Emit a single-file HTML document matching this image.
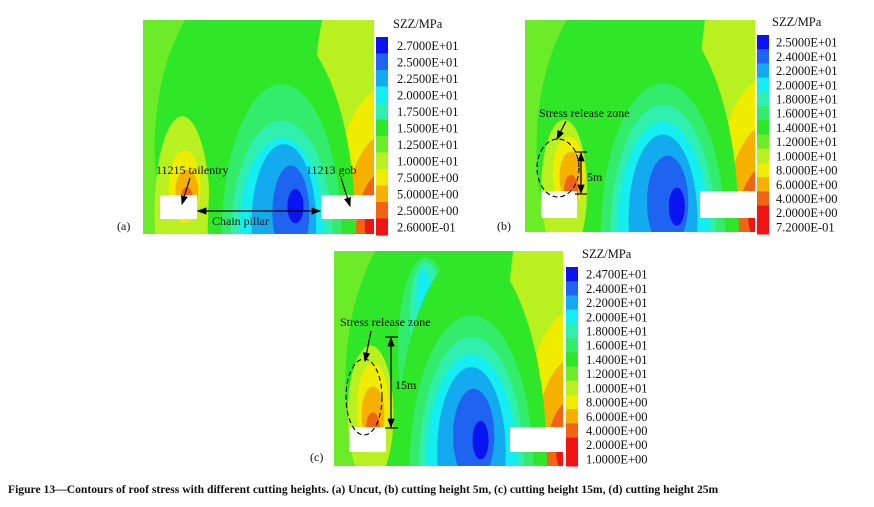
<!DOCTYPE html>
<html><head><meta charset="utf-8"><style>
html,body{margin:0;padding:0;background:#fff;overflow:hidden;width:874px;height:507px;}
svg{display:block;font-family:"Liberation Serif",serif;}
</style></head><body>
<svg id="fig" width="874" height="507" viewBox="0 0 874 507"></svg>
<script>
const NS='http://www.w3.org/2000/svg';
const svg=document.getElementById('fig');
const levelColors=['#0a14f0','#1e64f0','#14aaf0','#14eef0','#30f0b0','#34ec6c','#30e628','#6cec28','#b8f020','#f0ec00','#f5b000','#f06414','#f01414'];
const labelsA=['2.7000E+01','2.5000E+01','2.2500E+01','2.0000E+01','1.7500E+01','1.5000E+01','1.2500E+01','1.0000E+01','7.5000E+00','5.0000E+00','2.5000E+00','2.6000E-01'];
const labelsB=['2.5000E+01','2.4000E+01','2.2000E+01','2.0000E+01','1.8000E+01','1.6000E+01','1.4000E+01','1.2000E+01','1.0000E+01','8.0000E+00','6.0000E+00','4.0000E+00','2.0000E+00','7.2000E-01'];
const labelsC=['2.4700E+01','2.4000E+01','2.2000E+01','2.0000E+01','1.8000E+01','1.6000E+01','1.4000E+01','1.2000E+01','1.0000E+01','8.0000E+00','6.0000E+00','4.0000E+00','2.0000E+00','1.0000E+00'];
// contour blobs: [level, cx, cy, rx, ry] in plot fractions
const blobsA=[[8,1.08,.4,.34,.9],[9,1.08,.8,.24,.5],[10,1.08,.92,.2,.4],[11,1.06,1.0,.14,.3],[12,1.02,.96,.06,.12],
[8,.17,.9,.12,.45],[9,.18,.78,.07,.17],[10,.19,.8,.05,.1],[11,.19,.83,.025,.05],
[6,.6,1.0,.32,.95],[5,.6,1.02,.26,.72],[4,.6,1.02,.22,.55],[3,.6,1.0,.185,.45],[2,.61,.95,.14,.37],[1,.64,.9,.08,.22],[0,.66,.87,.035,.08]];
const blobsB=[[8,1.08,.35,.32,.95],[9,1.08,.78,.24,.52],[10,1.08,.9,.2,.42],[11,1.06,1.0,.14,.32],[12,1.03,.93,.06,.12],
[8,.17,.8,.1,.33],[9,.19,.72,.07,.17],[10,.2,.74,.05,.12],[11,.2,.8,.03,.07],
[6,.6,1.0,.33,1.0],[5,.6,1.02,.27,.72],[4,.6,1.02,.23,.62],[3,.6,1.0,.2,.52],[2,.6,.94,.15,.4],[1,.62,.86,.09,.22],[0,.66,.88,.035,.09]];
const blobsC=[[8,1.08,.35,.32,.95],[9,1.08,.78,.24,.52],[10,1.08,.9,.2,.42],[11,1.06,1.0,.14,.32],[12,1.03,.93,.06,.12],
[5,.4,.45,.12,.42],[4,.4,.3,.07,.25],[3,.39,.2,.03,.12],
[8,.16,.76,.1,.32],[9,.17,.72,.07,.2],[10,.17,.76,.05,.13],[11,.17,.82,.03,.07],
[6,.6,1.0,.33,1.0],[5,.6,1.02,.27,.72],[4,.6,1.02,.23,.62],[3,.6,1.0,.2,.52],[2,.6,.94,.15,.4],[1,.61,.86,.09,.22],[0,.64,.88,.035,.09]];
function el(tag,attrs,parent){const e=document.createElementNS(NS,tag);for(const k in attrs)e.setAttribute(k,attrs[k]);(parent||svg).appendChild(e);return e;}
function txt(x,y,s,size,parent,weight){const t=el('text',{x:x,y:y,'font-size':size,fill:'#111'},parent);if(weight)t.setAttribute('font-weight',weight);t.textContent=s;return t;}
function panel(id,px,py,pw,ph,blobs,labels,bar,rects){
 const g=el('g',{});
 
 
 const cp=el('clipPath',{id:'cp'+id},g);el('rect',{x:px,y:py,width:pw,height:ph},cp);
 const pg=el('g',{'clip-path':'url(#cp'+id+')'},g);
 const bg=el('rect',{x:px,y:py,width:pw,height:ph,fill:levelColors[7]},pg);
 
 
 el('ellipse',{cx:px+pw*.5,cy:py+ph*.6,rx:pw*.45,ry:ph*.85,fill:levelColors[6]},pg);
 blobs.forEach(b=>{
  const e=el('ellipse',{cx:px+b[1]*pw,cy:py+b[2]*ph,rx:b[3]*pw,ry:b[4]*ph,fill:levelColors[b[0]]},pg);
  
  
 });
 rects.forEach(r=>{
  const w=el('rect',{x:r[0],y:r[1],width:r[2],height:r[3],fill:'#fff'},pg);
  
  
 });
 const n=labels.length, bh=(bar[3])/n;
 const cols=n===12?[0,1,2,3,4,6,7,8,9,10,11,12]:[0,1,2,3,4,5,6,7,8,9,10,11,12,12];
 const cb=el('g',{},g);
 
 
 for(let i=0;i<n;i++){
  const r=el('rect',{x:bar[0],y:bar[1]+i*bh,width:bar[2],height:bh+.5,fill:levelColors[cols[i]]},cb);
  
  
  const t=txt(bar[4],bar[1]+i*bh+bh/2+4.5,labels[i],12.5,cb);
  
  
 }
 const tt=txt(bar[4]-4,bar[1]-9,'SZZ/MPa',12.5,cb);
 
 
 return g;
}
panel('a',143,20,231,214,blobsA,labelsA,[376,37,12,198,397],[[160,195,37,24],[321,195,53,24]]);
panel('b',525,20,230,212,blobsB,labelsB,[757,35,12,199,776],[[541,191,36,27],[700,191,55,27]]);
panel('c',334,251,229,215,blobsC,labelsC,[566,267,12,199,586],[[349,427,37,25],[510,427,53,25]]);

const ann=el('g',{});


el('defs',{},ann).innerHTML='<marker id="ah" markerWidth="8" markerHeight="8" refX="7" refY="4" orient="auto-start-reverse"><path d="M0,1 L8,4 L0,7 z" fill="#000"/></marker>';
function line(x1,y1,x2,y2,extra){return el('line',Object.assign({x1:x1,y1:y1,x2:x2,y2:y2,stroke:'#000','stroke-width':1.2},extra||{}),ann);}
txt(156,174,'11215 tailentry',12,ann);
line(190,178,182,204,{'marker-end':'url(#ah)'});
txt(306,174,'11213 gob',12,ann);
line(341,178,350,206,{'marker-end':'url(#ah)'});
line(198,211,320,211,{'marker-start':'url(#ah)','marker-end':'url(#ah)'});
txt(212,225,'Chain pillar',12,ann);
txt(539,117,'Stress release zone',12,ann);
line(566,121,557,139,{'marker-end':'url(#ah)'});
el('ellipse',{cx:558,cy:168,rx:21,ry:29,fill:'none',stroke:'#000','stroke-width':1.1,'stroke-dasharray':'5,3'},ann);
line(575,152,587,152);line(575,194,587,194);
line(581,153,581,193,{'marker-start':'url(#ah)','marker-end':'url(#ah)'});
txt(587,181,'5m',12,ann);
txt(340,326,'Stress release zone',12,ann);
line(371,331,365,361,{'marker-end':'url(#ah)'});
el('ellipse',{cx:364,cy:397,rx:18,ry:38,fill:'none',stroke:'#000','stroke-width':1.1,'stroke-dasharray':'5,3'},ann);
line(385,337,398,337);line(385,428,398,428);
line(391,338,391,427,{'marker-start':'url(#ah)','marker-end':'url(#ah)'});
txt(395,389,'15m',12,ann);
txt(117,230,'(a)',12,ann);
txt(497,230,'(b)',12,ann);
txt(310,461,'(c)',12,ann);
const cap=txt(8,493,'Figure 13—Contours of roof stress with different cutting heights. (a) Uncut, (b) cutting height 5m, (c) cutting height 15m, (d) cutting height 25m',11.6,svg,'bold');


</script>
</body></html>
